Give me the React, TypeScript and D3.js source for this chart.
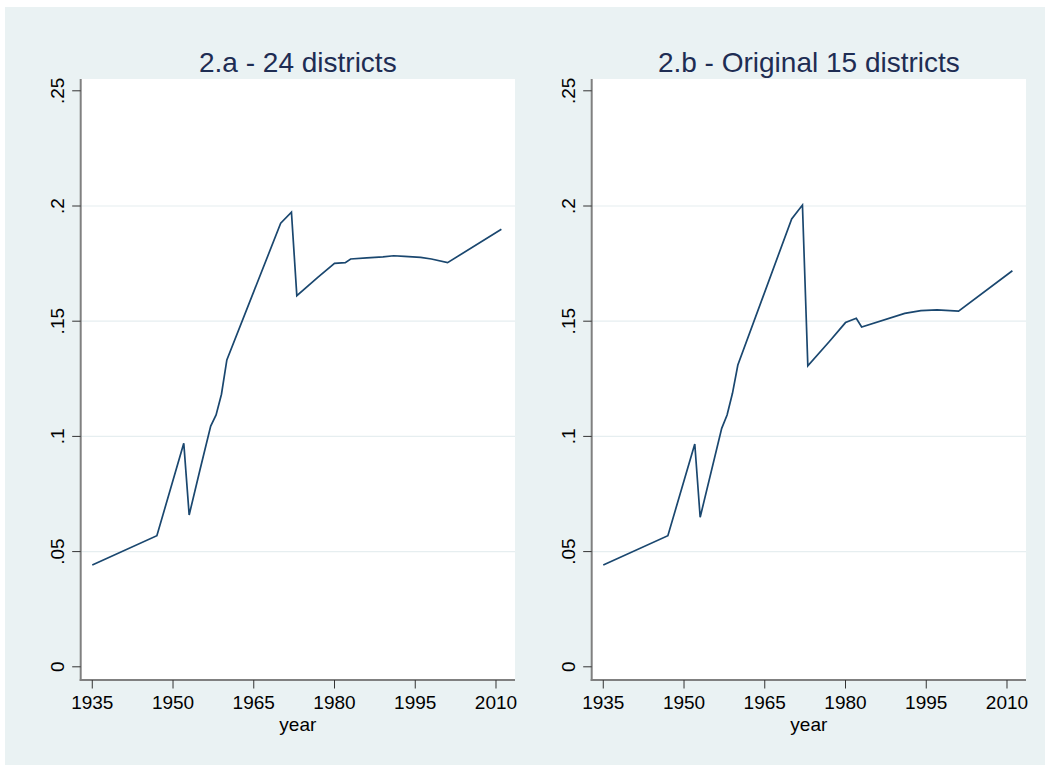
import React from "react";
import * as d3 from "d3";

// Panel 2.a - 24 districts
const yearsA = [1935, 1947, 1952, 1953, 1955, 1957, 1958, 1959, 1960, 1970, 1972, 1973, 1977, 1980, 1982, 1983, 1986, 1989, 1991, 1993, 1996, 1998, 2001, 2011];
const valuesA = [0.0442, 0.0569, 0.097, 0.0659, 0.0854, 0.1045, 0.1093, 0.1183, 0.1332, 0.1925, 0.1973, 0.1611, 0.1692, 0.1751, 0.1754, 0.177, 0.1775, 0.1779, 0.1784, 0.1781, 0.1777, 0.177, 0.1754, 0.1899];

// Panel 2.b - Original 15 districts
const yearsB = [1935, 1947, 1952, 1953, 1957, 1958, 1959, 1960, 1970, 1972, 1973, 1977, 1980, 1982, 1983, 1991, 1994, 1997, 2001, 2011];
const valuesB = [0.0442, 0.0569, 0.0967, 0.0649, 0.1035, 0.1093, 0.1187, 0.131, 0.1944, 0.2004, 0.1306, 0.1412, 0.1494, 0.1513, 0.1475, 0.1534, 0.1546, 0.1549, 0.1544, 0.1719];

const xTicks = [1935, 1950, 1965, 1980, 1995, 2010];
const yTicks = [0, 0.05, 0.1, 0.15, 0.2, 0.25];
const yTickLabels = ["0", ".05", ".1", ".15", ".2", ".25"];

const panels = [
  { title: "2.a - 24 districts", years: yearsA, values: valuesA, left: 80.7 },
  { title: "2.b - Original 15 districts", years: yearsB, values: valuesB, left: 591.7 },
];

const W = 1049;
const H = 771;
const plotW = 434.3;
const plotTop = 79;
const plotBottom = 680;
const font = "'Liberation Sans', Arial, Helvetica, sans-serif";
const lineColor = "#1a476f";
const axisColor = "#808080";
const gridColor = "#e6eef0";

function Panel({ title, years, values, left }: { title: string; years: number[]; values: number[]; left: number }) {
  const x = d3.scaleLinear().domain([1932.85, 2013.53]).range([left, left + plotW]);
  const y = d3.scaleLinear().domain([0, 0.25]).range([666.8, 90.8]);
  const pts = years.map((yr, i) => [yr, values[i]] as [number, number]);
  const line = d3.line<[number, number]>().x((d) => x(d[0])).y((d) => y(d[1]));

  return (
    <g>
      <text x={left + plotW / 2} y={72.3} textAnchor="middle" fontSize={28} fill="#1e2d53" fontFamily={font}>
        {title}
      </text>
      <rect x={left} y={plotTop} width={plotW} height={plotBottom - plotTop} fill="#fff" />
      {yTicks.filter((t) => t > 0 && t < 0.25).map((t) => (
        <line key={"g" + t} x1={left} x2={left + plotW} y1={y(t)} y2={y(t)} stroke={gridColor} strokeWidth={1.2} />
      ))}
      <path d={line(pts) || ""} fill="none" stroke={lineColor} strokeWidth={1.7} />
      {/* y axis */}
      <line x1={left} x2={left} y1={plotTop} y2={plotBottom + 1} stroke={axisColor} strokeWidth={2} />
      {yTicks.map((t, i) => (
        <g key={"y" + t}>
          <line x1={left - 8.5} x2={left} y1={y(t)} y2={y(t)} stroke="#333" strokeWidth={1} />
          <text
            transform={`translate(${left - 16.5},${y(t)}) rotate(-90)`}
            textAnchor="middle"
            fontSize={19}
            fill="#000"
            fontFamily={font}
          >
            {yTickLabels[i]}
          </text>
        </g>
      ))}
      {/* x axis */}
      <line x1={left - 1} x2={left + plotW} y1={plotBottom} y2={plotBottom} stroke={axisColor} strokeWidth={2} />
      {xTicks.map((t) => (
        <g key={"x" + t}>
          <line x1={x(t)} x2={x(t)} y1={plotBottom} y2={plotBottom + 8.5} stroke="#333" strokeWidth={1} />
          <text x={x(t)} y={708.5} textAnchor="middle" fontSize={19} fill="#000" fontFamily={font}>
            {t}
          </text>
        </g>
      ))}
      <text x={left + plotW / 2} y={731} textAnchor="middle" fontSize={19} fill="#000" fontFamily={font}>
        year
      </text>
    </g>
  );
}

export default function App() {
  return (
    <svg width={W} height={H} style={{ position: "absolute", left: 0, top: 0 }}>
      <rect x={0} y={0} width={W} height={H} fill="#fff" />
      <rect x={5} y={7} width={1040} height={758} fill="#eaf2f3" />
      {panels.map((p) => (
        <Panel key={p.title} {...p} />
      ))}
    </svg>
  );
}
